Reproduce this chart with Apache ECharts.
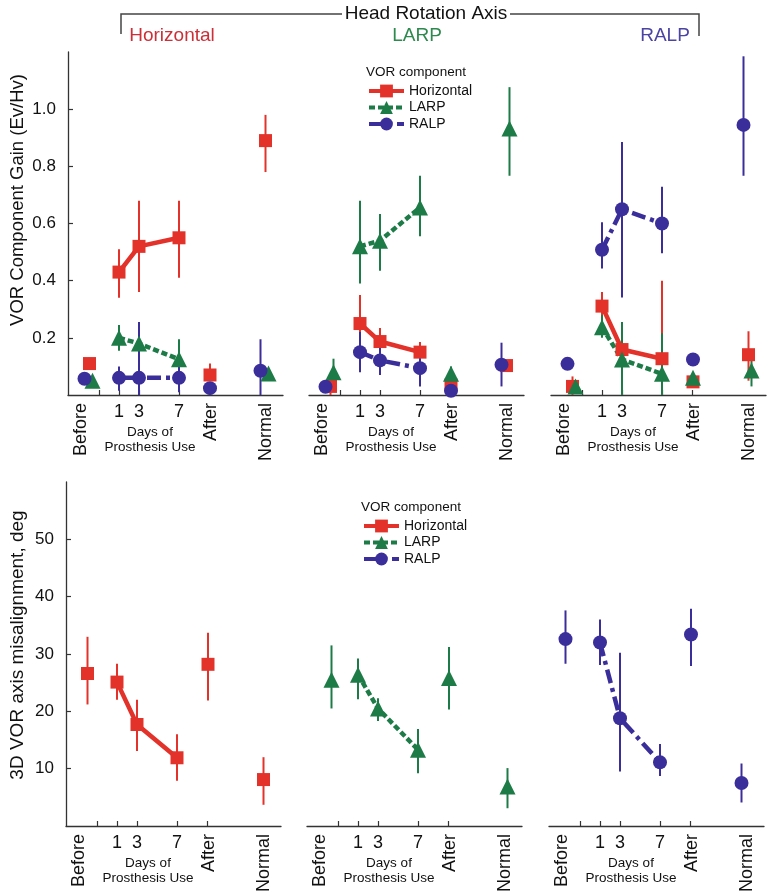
<!DOCTYPE html>
<html>
<head>
<meta charset="utf-8">
<script src="https://cdn.jsdelivr.net/npm/echarts@6/dist/echarts.min.js"></script>
<style>html,body{margin:0;padding:0;background:#fff;}#chart{width:769px;height:892px;}</style>
</head>
<body>
<div id="chart"></div>
<script>
// ---------------- DATA ----------------
const components = ['Horizontal', 'LARP', 'RALP'];
const rotationTitles = ['Horizontal', 'LARP', 'RALP'];
// point order: Before, day 1, day 3, day 7, After, Normal
const pointPos = [-2.2, 1, 3, 7, 10.1, 15.4];
const tickPos = [-1, 1, 3, 7, 10];
const rotLabels = ['Before', 'After', 'Normal'];
const rotLabelPos = [-2.8, 10.2, 15.7];
const dayLabels = ['1', '3', '7'];
const dayLabelPos = [1, 3, 7];
const gainTicks = [0.2, 0.4, 0.6, 0.8, 1.0];
const misTicks = [10, 20, 30, 40, 50];

// VOR component gain [mean, low, high]
const gainRotHoriz_H = [[0.11,0.095,0.13],[0.43,0.34,0.51],[0.52,0.36,0.68],[0.55,0.41,0.68],[0.07,0.05,0.11],[0.89,0.78,0.98]];
const gainRotHoriz_L = [[0.05,0.04,0.06],[0.20,0.155,0.245],[0.18,0.15,0.21],[0.125,0.06,0.195],null,[0.075,0.06,0.09]];
const gainRotHoriz_R = [[0.057,0.05,0.065],[0.06,0.015,0.10],[0.06,0.0,0.255],[0.06,0.01,0.10],[0.024,0.01,0.035],[0.085,0.0,0.195]];

const gainRotLARP_H = [[0.03,0.0,0.05],[0.25,0.16,0.35],[0.187,0.15,0.234],[0.15,0.12,0.185],[0.035,0.02,0.05],[0.103,0.09,0.12]];
const gainRotLARP_L = [[0.08,0.04,0.127],[0.52,0.39,0.68],[0.54,0.435,0.633],[0.656,0.555,0.767],[0.074,0.04,0.1],[0.932,0.767,1.077]];
const gainRotLARP_R = [[0.029,0.02,0.04],[0.15,0.08,0.22],[0.121,0.07,0.18],[0.094,0.03,0.15],[0.015,0.0,0.03],[0.106,0.03,0.183]];

const gainRotRALP_H = [[0.03,0.0,0.065],[0.311,0.25,0.36],[0.159,0.02,0.255],[0.127,0.02,0.40],[0.046,0.035,0.06],[0.141,0.05,0.223]];
const gainRotRALP_L = [[0.03,0.02,0.04],[0.237,0.2,0.28],[0.124,0.0,0.255],[0.074,0.0,0.216],[0.06,0.04,0.075],[0.086,0.03,0.13]];
const gainRotRALP_R = [[0.109,0.1,0.12],[0.508,0.443,0.604],[0.65,0.341,0.885],[0.6,0.496,0.729],[0.124,0.11,0.135],[0.945,0.767,1.185]];

// 3D VOR axis misalignment, deg [mean, low, high]
const misRotHoriz_H = [[26.6,21.2,33.0],[25.1,22.0,28.3],[17.7,13.1,22.0],[11.9,7.9,16.0],[28.2,21.9,33.7],[8.1,3.7,12.0]];
const misRotLARP_L = [[25.5,20.5,31.5],[26.4,22.1,29.2],[20.5,18.3,22.3],[13.3,9.2,16.9],[25.8,20.3,31.2],[6.9,3.1,10.1]];
const misRotRALP_R = [[32.6,28.3,37.6],[32.0,28.1,36.0],[18.8,9.5,30.2],[11.1,8.7,14.3],[33.4,27.9,37.9],[7.5,4.1,10.9]];

// ---------------- STYLE / LAYOUT ----------------
const FONT = "'Liberation Sans', Arial, Helvetica, sans-serif";
const COLORS = {Horizontal: '#e3322a', LARP: '#1c7b46', RALP: '#3a2e9b'};
const TITLE_COLORS = {Horizontal: '#cc2f38', LARP: '#2d8a4e', RALP: '#4b44a3'};
const SYMBOLS = {Horizontal: 'rect', LARP: 'triangle', RALP: 'circle'};
const SYMBOL_SIZE = {Horizontal: 13, LARP: 16, RALP: 14};
const LINE_TYPE = {Horizontal: 'solid', LARP: [6, 3], RALP: [14, 5, 4, 5]};
const JITTER = {Horizontal: 0.25, LARP: 0.55, RALP: -0.25};
const X_MIN = -4.1, X_MAX = 17.4;

const rows = [
  {top: 52, height: 343, lefts: [68, 309, 551], min: 0, max: 1.2, ticks: gainTicks, fmt: v => v.toFixed(1)},
  {top: 482, height: 344, lefts: [66, 307, 549], min: 0, max: 60, ticks: misTicks, fmt: v => String(v)}
];
const GRID_W = 215;

const panels = [
  {row: 0, col: 0, data: {Horizontal: gainRotHoriz_H, LARP: gainRotHoriz_L, RALP: gainRotHoriz_R}},
  {row: 0, col: 1, data: {Horizontal: gainRotLARP_H, LARP: gainRotLARP_L, RALP: gainRotLARP_R}},
  {row: 0, col: 2, data: {Horizontal: gainRotRALP_H, LARP: gainRotRALP_L, RALP: gainRotRALP_R}},
  {row: 1, col: 0, data: {Horizontal: misRotHoriz_H}},
  {row: 1, col: 1, data: {LARP: misRotLARP_L}},
  {row: 1, col: 2, data: {RALP: misRotRALP_R}}
];

function xOf(i, comp) {
  return (i === 0 || i === 5) ? pointPos[i] + JITTER[comp] : pointPos[i];
}

const grids = [], xAxes = [], yAxes = [], series = [], graphics = [];

panels.forEach((p, gi) => {
  const r = rows[p.row];
  grids.push({left: r.lefts[p.col], top: r.top, width: GRID_W, height: r.height, containLabel: false, outerBoundsMode: 'none'});
  xAxes.push({
    type: 'value', gridIndex: gi, position: 'bottom', min: X_MIN, max: X_MAX,
    splitLine: {show: false},
    axisLine: {show: true, onZero: false, lineStyle: {color: '#333', width: 1.3}},
    axisTick: {show: true, inside: true, length: 5, customValues: tickPos, lineStyle: {color: '#333', width: 1.2}},
    axisLabel: {show: true, customValues: rotLabelPos, rotate: 90, margin: 8, fontSize: 18, color: '#111', fontFamily: FONT,
      formatter: v => { const k = rotLabelPos.indexOf(v); return k >= 0 ? rotLabels[k] : ''; }}
  });
  xAxes.push({
    type: 'value', gridIndex: gi, position: 'bottom', offset: 0, min: X_MIN, max: X_MAX,
    splitLine: {show: false}, axisLine: {show: false, onZero: false}, axisTick: {show: false},
    axisLabel: {show: true, customValues: dayLabelPos, margin: 8, fontSize: 18, color: '#111', fontFamily: FONT,
      formatter: v => { const k = dayLabelPos.indexOf(v); return k >= 0 ? dayLabels[k] : ''; }}
  });
  const showY = p.col === 0;
  yAxes.push({
    type: 'value', gridIndex: gi, min: r.min, max: r.max, show: showY,
    splitLine: {show: false},
    axisLine: {show: showY, onZero: false, lineStyle: {color: '#333', width: 1.3}},
    axisTick: {show: showY, inside: true, length: 5, customValues: r.ticks, lineStyle: {color: '#333', width: 1.2}},
    axisLabel: {show: showY, customValues: r.ticks, margin: 12, fontSize: 17, color: '#111', fontFamily: FONT, formatter: r.fmt}
  });
  const axisY = r.top + r.height;
  graphics.push({type: 'text', x: r.lefts[p.col] + 82, y: axisY + 37,
    style: {text: 'Days of', fontSize: 13.5, fontFamily: FONT, fill: '#111', align: 'center', verticalAlign: 'middle'}});
  graphics.push({type: 'text', x: r.lefts[p.col] + 82, y: axisY + 52,
    style: {text: 'Prosthesis Use', fontSize: 13.5, fontFamily: FONT, fill: '#111', align: 'center', verticalAlign: 'middle'}});
});

function renderErr(params, api) {
  const x = api.value(0), lo = api.value(1), hi = api.value(2);
  const a = api.coord([x, lo]), b = api.coord([x, hi]);
  return {type: 'line', shape: {x1: a[0], y1: a[1], x2: b[0], y2: b[1]},
    style: {stroke: api.visual('color'), lineWidth: 2}};
}

panels.forEach((p, gi) => {
  components.forEach(c => {
    const d = p.data[c]; if (!d) return;
    const ed = [];
    d.forEach((pt, i) => { if (pt) ed.push([xOf(i, c), pt[1], pt[2]]); });
    series.push({type: 'custom', name: c + ' error', xAxisIndex: gi * 2, yAxisIndex: gi, data: ed,
      renderItem: renderErr, itemStyle: {color: COLORS[c]}, silent: true, z: 1});
  });
});
panels.forEach((p, gi) => {
  components.forEach(c => {
    const d = p.data[c]; if (!d) return;
    const ld = [1, 2, 3].filter(i => d[i]).map(i => [xOf(i, c), d[i][0]]);
    series.push({type: 'line', name: c, xAxisIndex: gi * 2, yAxisIndex: gi, data: ld,
      symbol: SYMBOLS[c], symbolSize: SYMBOL_SIZE[c], showAllSymbol: true,
      itemStyle: {color: COLORS[c]},
      lineStyle: {color: COLORS[c], width: 4.5, type: LINE_TYPE[c]}, z: 3});
  });
});
panels.forEach((p, gi) => {
  components.forEach(c => {
    const d = p.data[c]; if (!d) return;
    const sd = [0, 4, 5].filter(i => d[i]).map(i => [xOf(i, c), d[i][0]]);
    series.push({type: 'scatter', name: c, xAxisIndex: gi * 2, yAxisIndex: gi, data: sd,
      symbol: SYMBOLS[c], symbolSize: SYMBOL_SIZE[c], itemStyle: {color: COLORS[c], opacity: 1}, z: 3});
  });
});

// header
graphics.push({type: 'polyline', shape: {points: [[121, 34], [121, 14], [342, 14]]}, style: {stroke: '#444', lineWidth: 1.5, fill: null}});
graphics.push({type: 'polyline', shape: {points: [[510, 14], [699, 14], [699, 36]]}, style: {stroke: '#444', lineWidth: 1.5, fill: null}});
graphics.push({type: 'text', x: 426, y: 14, style: {text: 'Head Rotation Axis', fontSize: 19, fontFamily: FONT, fill: '#111', align: 'center', verticalAlign: 'middle'}});
const titleX = [172, 417, 665];
rotationTitles.forEach((t, i) => {
  graphics.push({type: 'text', x: titleX[i], y: 36, style: {text: t, fontSize: 19, fontFamily: FONT, fill: TITLE_COLORS[t], align: 'center', verticalAlign: 'middle'}});
});
graphics.push({type: 'text', x: 18, y: 200, rotation: Math.PI / 2,
  style: {text: 'VOR Component Gain (Ev/Hv)', fontSize: 18.5, fontFamily: FONT, fill: '#111', align: 'center', verticalAlign: 'middle'}});
graphics.push({type: 'text', x: 18, y: 645, rotation: Math.PI / 2,
  style: {text: '3D VOR axis misalignment, deg', fontSize: 19, fontFamily: FONT, fill: '#111', align: 'center', verticalAlign: 'middle'}});
graphics.push({type: 'text', x: 416, y: 72, style: {text: 'VOR component', fontSize: 13.5, fontFamily: FONT, fill: '#111', align: 'center', verticalAlign: 'middle'}});
graphics.push({type: 'text', x: 411, y: 507, style: {text: 'VOR component', fontSize: 13.5, fontFamily: FONT, fill: '#111', align: 'center', verticalAlign: 'middle'}});

const legendBase = {data: components, orient: 'vertical', itemWidth: 35, itemHeight: 16, itemGap: 2.5, selectedMode: false,
  lineStyle: {width: 4}, textStyle: {fontSize: 14, color: '#111', fontFamily: FONT}};

const chart = echarts.init(document.getElementById('chart'), null, {renderer: 'canvas'});
chart.setOption({
  animation: false,
  backgroundColor: '#fff',
  textStyle: {fontFamily: FONT},
  grid: grids,
  xAxis: xAxes,
  yAxis: yAxes,
  legend: [Object.assign({left: 362, top: 79}, legendBase), Object.assign({left: 357, top: 514}, legendBase)],
  series: series,
  graphic: {elements: graphics}
});
</script>
</body>
</html>
